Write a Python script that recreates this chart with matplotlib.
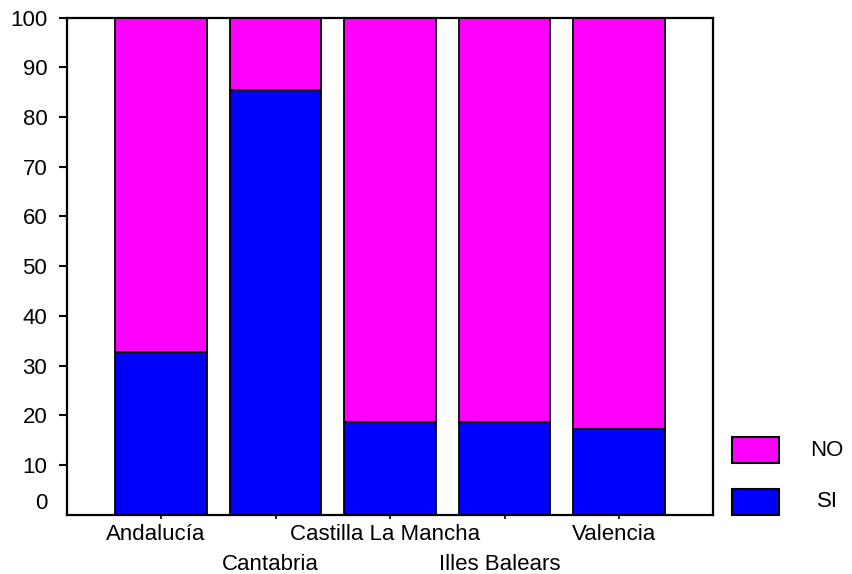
import matplotlib
matplotlib.use("Agg")
import matplotlib.pyplot as plt
from matplotlib.patches import Rectangle
from matplotlib.transforms import ScaledTranslation
import numpy as np

plt.rcParams['font.family'] = ['Liberation Sans', 'DejaVu Sans']

categories = ["Andalucía", "Cantabria", "Castilla La Mancha", "Illes Balears", "Valencia"]
si_values = [32.8, 85.5, 18.7, 18.7, 17.3]
no_values = [100 - v for v in si_values]
series_names = ["NO", "SI"]
yticks = [0, 10, 20, 30, 40, 50, 60, 70, 80, 90, 100]

blue = "#0000FF"
magenta = "#FF00FF"

W, H = 852, 574
fig = plt.figure(figsize=(W / 100, H / 100), dpi=100)
ax = fig.add_axes([66.7 / W, 1 - 514.7 / H, (713 - 66.7) / W, (514.7 - 17.5) / H])

x = np.arange(len(categories))
ax.bar(x, si_values, width=0.8, color=blue, edgecolor="black", linewidth=1.3, zorder=2)
ax.bar(x, no_values, width=0.8, bottom=si_values, color=magenta, edgecolor="black",
       linewidth=1.3, zorder=2)

ax.set_xlim(-0.824, 4.821)
ax.set_ylim(0, 100)

for s in ax.spines.values():
    s.set_linewidth(1.6)
    s.set_color("black")

ax.set_yticks(yticks)
ax.set_yticklabels([str(t) for t in yticks])
ax.tick_params(axis="y", direction="out", length=6, width=1.5, pad=8, labelsize=16)
ax.set_xticks(x)
ax.set_xticklabels(categories)
ax.tick_params(axis="x", direction="out", length=3, width=1.2, pad=4, labelsize=16)

# shift the "0" y label upward
lab0 = ax.get_yticklabels()[0]
lab0.set_transform(lab0.get_transform() + ScaledTranslation(0, 0.14, fig.dpi_scale_trans))
ax.yaxis.get_major_ticks()[0].tick1line.set_visible(False)

# stagger x labels
for i, lab in enumerate(ax.get_xticklabels()):
    dy = -0.30 if i % 2 == 1 else 0.0
    lab.set_transform(lab.get_transform() + ScaledTranslation(-0.05, dy, fig.dpi_scale_trans))

# legend (manual, figure coordinates)
colors = [magenta, blue]
tops = [437.3, 489.0]
for name, c, t in zip(series_names, colors, tops):
    fig.patches.append(Rectangle((731.7 / W, 1 - (t + 25.5) / H), 47.6 / W, 25.5 / H,
                                 transform=fig.transFigure, facecolor=c,
                                 edgecolor="black", linewidth=1.5))
    fig.text(827 / W, 1 - (t + 12.7) / H, name, ha="center", va="center", fontsize=16)

fig.savefig("out.png", dpi=100)
